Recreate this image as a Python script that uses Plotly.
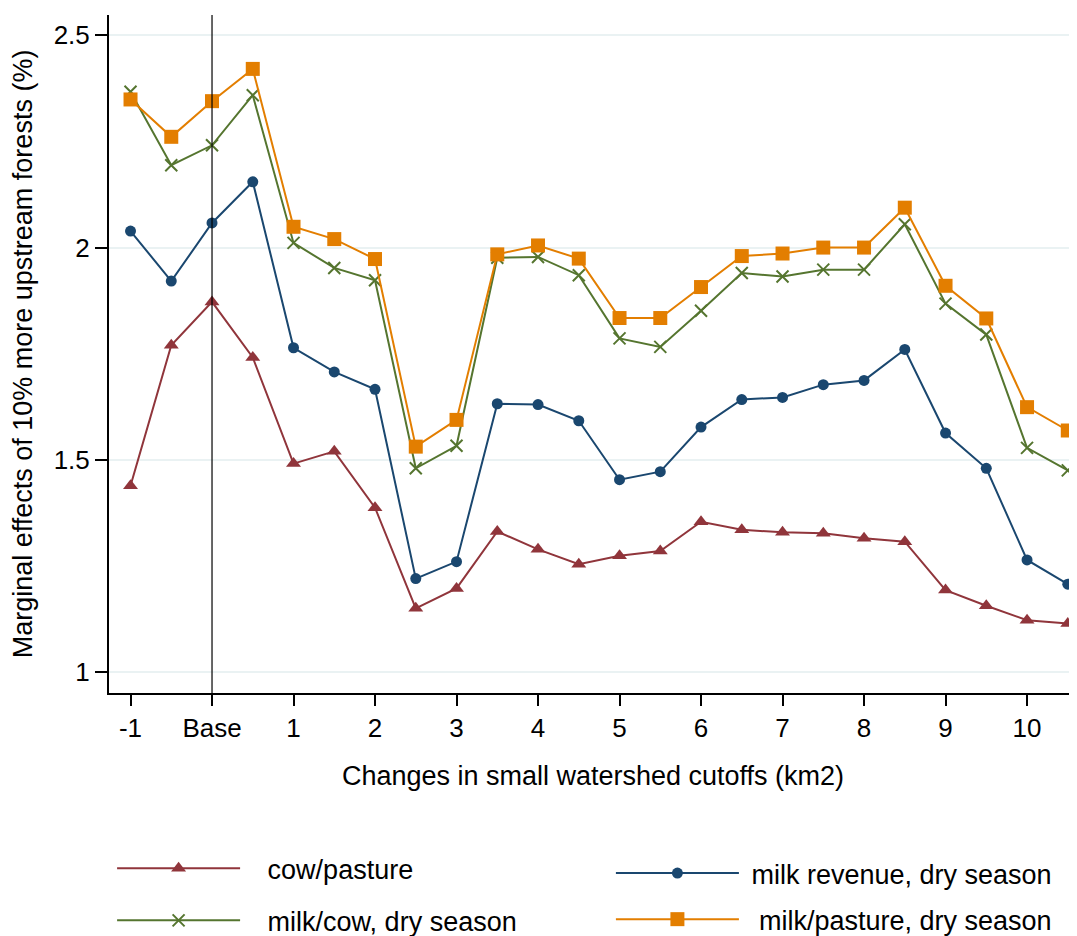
import plotly.graph_objects as go

# ---- data ----
x_cutoff = [-1, -0.5, 0, 0.5, 1, 1.5, 2, 2.5, 3, 3.5, 4, 4.5, 5, 5.5, 6, 6.5,
            7, 7.5, 8, 8.5, 9, 9.5, 10, 10.5]
cow_pasture = [1.439, 1.770, 1.872, 1.741, 1.491, 1.520, 1.387, 1.150, 1.197, 1.331,
               1.289, 1.254, 1.274, 1.285, 1.354, 1.335, 1.329, 1.327, 1.315, 1.307,
               1.193, 1.156, 1.122, 1.114]
milk_revenue = [2.039, 1.921, 2.058, 2.155, 1.764, 1.707, 1.666, 1.220, 1.260, 1.632,
                1.630, 1.592, 1.453, 1.472, 1.577, 1.642, 1.647, 1.677, 1.687, 1.760,
                1.563, 1.480, 1.264, 1.207]
milk_cow = [2.367, 2.194, 2.241, 2.359, 2.011, 1.952, 1.923, 1.480, 1.533, 1.976,
            1.978, 1.935, 1.786, 1.766, 1.851, 1.940, 1.932, 1.948, 1.948, 2.055,
            1.868, 1.795, 1.528, 1.475]
milk_pasture = [2.349, 2.261, 2.345, 2.421, 2.049, 2.020, 1.973, 1.531, 1.594, 1.984,
                2.005, 1.974, 1.834, 1.834, 1.907, 1.980, 1.986, 2.000, 2.000, 2.094,
                1.910, 1.833, 1.624, 1.569]
series_names = ["cow/pasture", "milk revenue, dry season",
                "milk/cow, dry season", "milk/pasture, dry season"]
x_tickvals = [-1, 0, 1, 2, 3, 4, 5, 6, 7, 8, 9, 10]
x_ticktext = ["-1", "Base", "1", "2", "3", "4", "5", "6", "7", "8", "9", "10"]
y_tickvals = [1, 1.5, 2, 2.5]
y_ticktext = ["1", "1.5", "2", "2.5"]

FONT = "Liberation Sans, Arial, sans-serif"
RED, NAVY, GREEN, ORANGE = "#90353b", "#1a476f", "#55752f", "#e37e00"
NB = "\u00a0"

fig = go.Figure()
fig.add_trace(go.Scatter(x=x_cutoff, y=cow_pasture, mode="lines+markers",
                         name=NB * 3 + series_names[0],
                         line=dict(color=RED, width=2), cliponaxis=False,
                         marker=dict(symbol="triangle-up", size=13, color=RED),
                         legend="legend", legendgroup="a"))
fig.add_trace(go.Scatter(x=x_cutoff, y=milk_revenue, mode="lines+markers",
                         name=NB * 1 + series_names[1],
                         line=dict(color=NAVY, width=2), cliponaxis=False,
                         marker=dict(symbol="circle", size=11, color=NAVY),
                         legend="legend2", legendgroup="b"))
fig.add_trace(go.Scatter(x=x_cutoff, y=milk_cow, mode="lines+markers",
                         name=NB * 3 + series_names[2],
                         line=dict(color=GREEN, width=2), cliponaxis=False,
                         marker=dict(symbol="x-thin", size=12, color=GREEN,
                                     line=dict(color=GREEN, width=2)),
                         legend="legend", legendgroup="c"))
fig.add_trace(go.Scatter(x=x_cutoff, y=milk_pasture, mode="lines+markers",
                         name=NB * 2 + series_names[3],
                         line=dict(color=ORANGE, width=2), cliponaxis=False,
                         marker=dict(symbol="square", size=14, color=ORANGE),
                         legend="legend2", legendgroup="d"))

fig.add_shape(type="line", x0=0, x1=0, xref="x", y0=0, y1=1, yref="paper",
              line=dict(color="black", width=1.2))

legend_common = dict(xanchor="left", yanchor="top",
                     font=dict(family=FONT, size=27, color="black"),
                     bgcolor="rgba(0,0,0,0)", traceorder="grouped",
                     itemwidth=123, itemclick=False)

fig.update_layout(
    width=1069, height=928,
    margin=dict(l=101, r=0, t=7, b=243, autoexpand=False),
    paper_bgcolor="white", plot_bgcolor="white",
    font=dict(family=FONT, color="black"),
    xaxis=dict(range=[-1.264, 10.613], tickvals=x_tickvals, ticktext=x_ticktext,
               ticks="outside", ticklen=11, tickwidth=2, tickcolor="black",
               showline=True, linewidth=2, linecolor="black", showgrid=False, zeroline=False,
               tickfont=dict(size=26),
               title=dict(text="Changes in small watershed cutoffs (km2)", font=dict(size=27),
                          standoff=24)),
    yaxis=dict(range=[0.9505, 2.548], tickvals=y_tickvals, ticktext=y_ticktext,
               ticks="outside", ticklen=12, tickwidth=2, tickcolor="black",
               showline=True, linewidth=2, linecolor="black",
               showgrid=True, gridcolor="#eaf2f3", gridwidth=2, zeroline=False,
               tickfont=dict(size=26),
               title=dict(text="Marginal effects of 10% more upstream forests (%)",
                          font=dict(size=27), standoff=15)),
    legend=dict(x=0.0032, y=-0.2230, tracegroupgap=14, **legend_common),
    legend2=dict(x=0.5185, y=-0.2301, tracegroupgap=8, **legend_common),
)

fig.write_html("out.html")
